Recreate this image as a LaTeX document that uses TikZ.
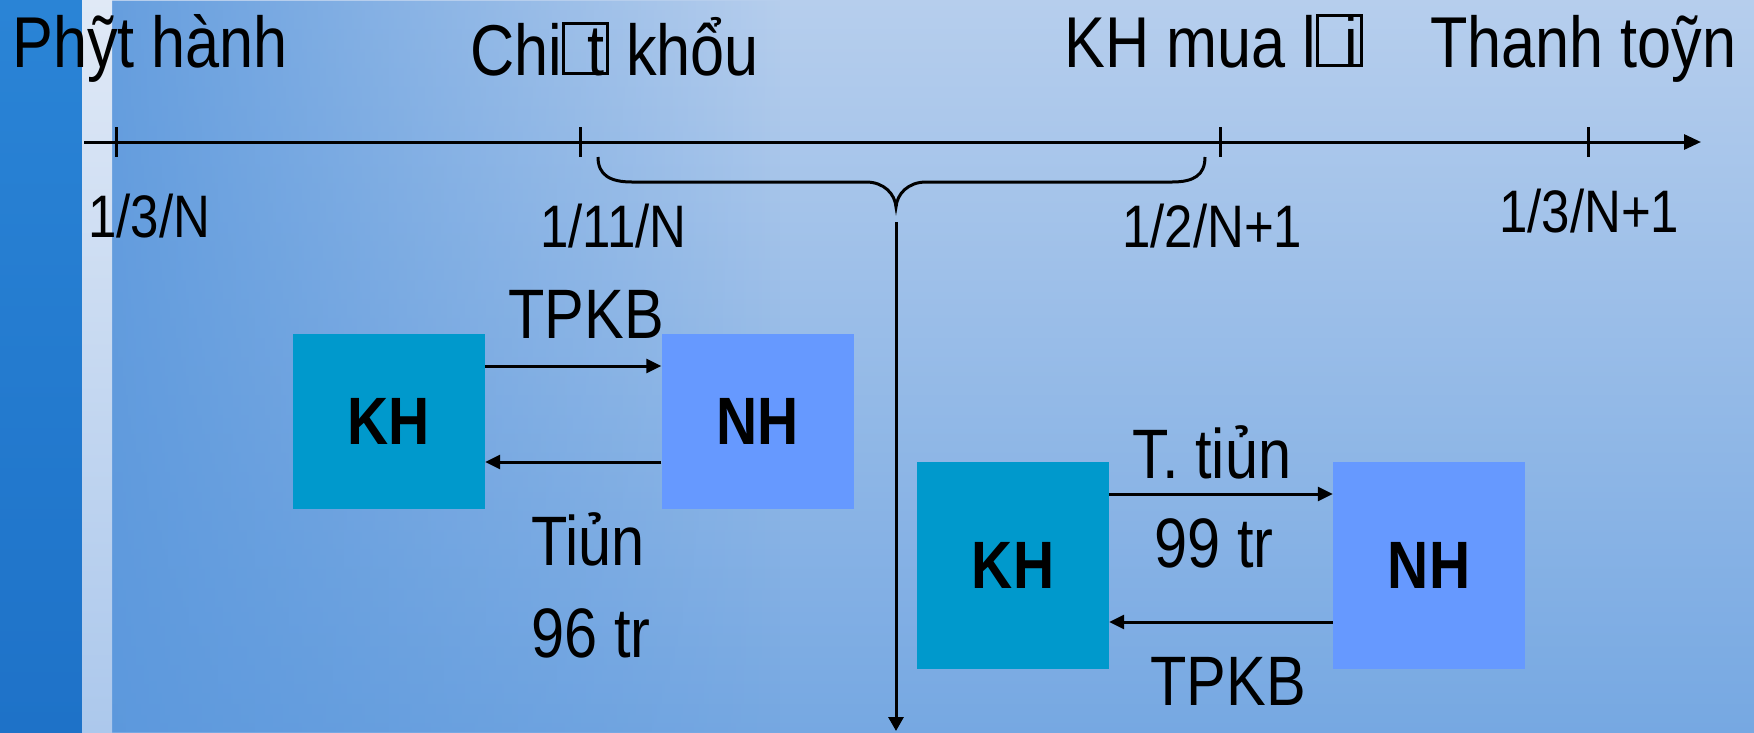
\documentclass[tikz,border=0pt]{standalone}
\usepackage{fontspec}
\setmainfont{Liberation Sans}[FakeStretch=0.85]
\usetikzlibrary{arrows.meta,fadings}

\definecolor{khblue}{RGB}{0,153,204}
\definecolor{nhblue}{RGB}{102,153,255}
\definecolor{skytop}{RGB}{182,206,237}
\definecolor{skybot}{RGB}{118,168,226}
\definecolor{skyleft}{RGB}{88,150,220}
\definecolor{stripdark}{RGB}{42,132,214}
\definecolor{stripdarkb}{RGB}{30,114,200}
\definecolor{striplight}{RGB}{224,233,246}
\definecolor{stripmid}{RGB}{200,218,242}
\definecolor{striplightb}{RGB}{172,200,236}

\tikzfading[name=fadeeast, left color=transparent!0, right color=transparent!100]

% missing-glyph box with the following letter printed inside it
\newcommand\tofu[1]{%
  \rlap{\setlength\fboxsep{0pt}\setlength\fboxrule{3pt}%
    \raisebox{3pt}{\fbox{\rule{0pt}{47pt}\rule{41pt}{0pt}}}}%
  \makebox[47pt][r]{#1\kern5pt}}

\begin{document}
\begin{tikzpicture}[x=1pt,y=-1pt,
  toptxt/.style={inner sep=0pt, anchor=base west, font=\fontsize{72}{80}\selectfont},
  datetxt/.style={inner sep=0pt, anchor=base west, font=\fontsize{60}{70}\selectfont},
  flowtxt/.style={inner sep=0pt, anchor=base, font=\fontsize{70}{80}\selectfont},
  party/.style={inner sep=0pt, minimum width=192pt, font=\fontsize{67}{70}\selectfont\bfseries},
  khbox/.style={party, fill=khblue},
  nhbox/.style={party, fill=nhblue},
  axis/.style={line width=3pt},
  flow/.style={line width=3pt, -{Triangle[length=15pt,width=14pt]}}]

% background
\useasboundingbox (0,0) rectangle (1754,732);
\shade[top color=skytop, bottom color=skybot] (112,0) rectangle (1754,732);
\fill[skyleft, path fading=fadeeast, opacity=0.85] (112,0) rectangle (780,732);
\shade[top color=stripdark, bottom color=stripdarkb] (0,0) rectangle (82,732);
\shade[top color=striplight, middle color=stripmid, bottom color=striplightb] (82,0) rectangle (112,732);

% event labels
\node[toptxt] (ph)  at (12,67)   {Phỹt hành};
\node[toptxt] (ck)  at (470,75)  {Chi\tofu{t} khổu};
\node[toptxt] (kml) at (1064,67) {KH mua l\tofu{i}};
\node[toptxt] (tt)  at (1430,67) {Thanh toỹn};

% time axis
\coordinate (axL) at (84,142);
\coordinate (axR) at (1701,142);
\draw[axis, -{Triangle[length=17pt,width=15pt]}] (axL) -- (axR);
\foreach \x in {116,580,1220,1588}
  \draw[axis] (\x,127) -- (\x,157);

\node[datetxt] (d1) at (88,237)   {1/3/N};
\node[datetxt] (d2) at (540,247)  {1/11/N};
\node[datetxt] (d3) at (1122,247) {1/2/N+1};
\node[datetxt] (d4) at (1499,232) {1/3/N+1};

% brace over the holding period
\draw[axis] (598,157) .. controls (598,175) and (610,182) .. (632,182)
  -- (866,182) .. controls (884,182) and (895,194) .. (896,207)
  .. controls (897,194) and (908,182) .. (926,182)
  -- (1172,182) .. controls (1194,182) and (1205,175) .. (1205,157);
\coordinate (vs) at (896,222);
\coordinate (ve) at (896,731);
\draw[line width=3pt, -{Triangle[length=14pt,width=15pt]}] (vs) -- (ve);

% issue: customer and bank
\node[khbox, minimum height=175pt] (kh1) at (389,421.5) {KH};
\node[nhbox, minimum height=175pt] (nh1) at (757.5,421.5) {NH};
\draw[flow] ([yshift=55.5pt]kh1.east) -- ([yshift=55.5pt]nh1.west);
\draw[flow] ([yshift=-40.5pt]nh1.west) -- ([yshift=-40.5pt]kh1.east);
\node[flowtxt] (l1) at (586,338) {TPKB};
\node[flowtxt] (l2) at (588,565) {Tiủn};
\node[flowtxt] (l3) at (591,657) {96 tr};

% repurchase: customer and bank
\node[khbox, minimum height=207pt] (kh2) at (1013,565.5) {KH};
\node[nhbox, minimum height=207pt] (nh2) at (1429,565.5) {NH};
\draw[flow] ([yshift=71.5pt]kh2.east) -- ([yshift=71.5pt]nh2.west);
\draw[flow] ([yshift=-56.5pt]nh2.west) -- ([yshift=-56.5pt]kh2.east);
\node[flowtxt] (l4) at (1212,478) {T. tiủn};
\node[flowtxt] (l5) at (1214,567) {99 tr};
\node[flowtxt] (l6) at (1228,705) {TPKB};
\end{tikzpicture}
\end{document}
